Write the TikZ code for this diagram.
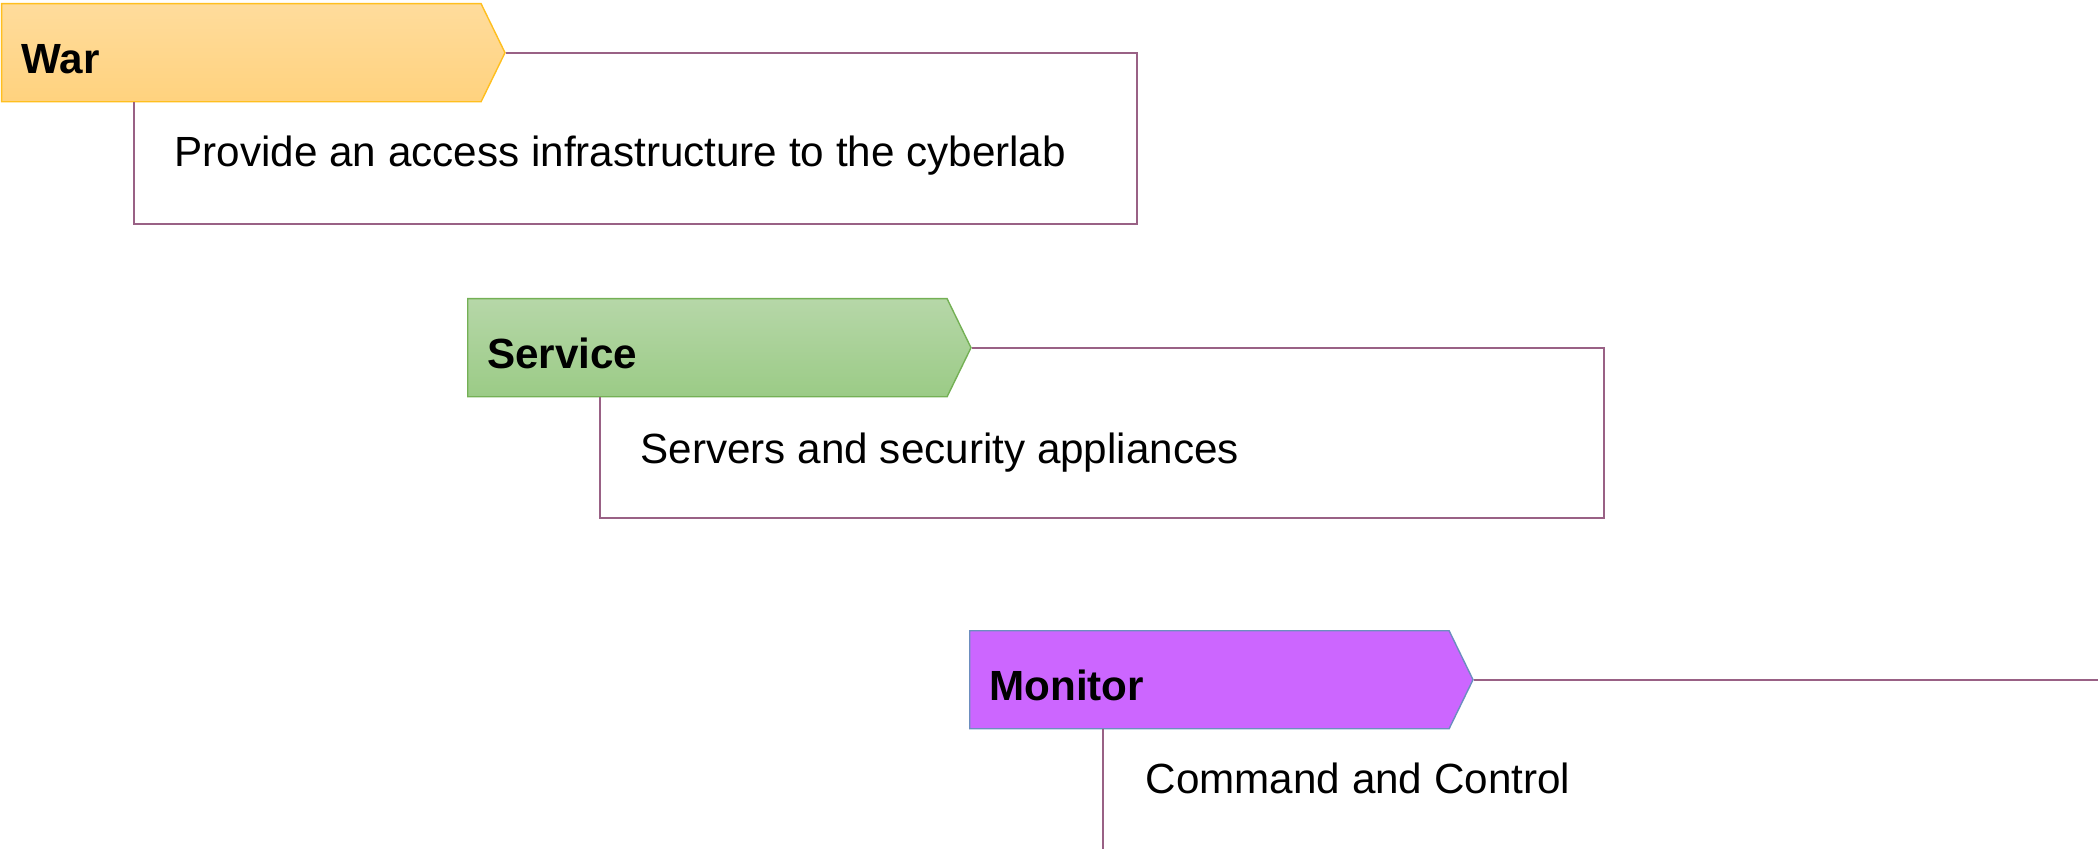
\documentclass[tikz,border=0pt]{standalone}
\usepackage{fontspec}
\setmainfont{Liberation Sans}
\usepackage{tikz}
\usetikzlibrary{shapes.symbols,positioning}
\definecolor{rimpurple}{HTML}{996185}
\definecolor{warline}{HTML}{FFBF1F}
\definecolor{warhi}{HTML}{FFDC9C}
\definecolor{warlo}{HTML}{FFD27E}
\definecolor{srvline}{HTML}{74B055}
\definecolor{srvhi}{HTML}{B6D7A8}
\definecolor{srvlo}{HTML}{9BCB86}
\definecolor{monfill}{HTML}{CC66FF}
\definecolor{monline}{HTML}{6C8EBF}

\begin{document}
\begin{tikzpicture}[x=0.01cm, y=-0.01cm,
  etiqueta/.style={signal, signal to=east, signal pointer angle=128, anchor=north west,
                   minimum width=5.03cm, minimum height=0.98cm, text width=4.4cm, align=left,
                   inner xsep=0.19cm, inner ysep=0.28cm, text height=0.42cm, text depth=0pt,
                   line width=0.4pt, font=\fontsize{12}{14}\selectfont\bfseries},
  nota/.style={anchor=base west, inner sep=0pt, font=\fontsize{12}{14}\selectfont},
  borde/.style={rimpurple, line width=0.65pt}]
\useasboundingbox (0,0) rectangle (2098,849);
\clip (0,0) rectangle (2098,849);

% bloques
\node[etiqueta, draw=warline, top color=warhi, bottom color=warlo] (war) at (1,3) {War};
\node[nota] (wartxt) at (174,167) {Provide an access infrastructure to the cyberlab};
\draw[borde] (war.east) -| (1137,224) -| ([xshift=1.33cm]war.south west);

\node[etiqueta, draw=srvline, top color=srvhi, bottom color=srvlo] (srv) at (467,298) {Service};
\node[nota] (srvtxt) at (640,463) {Servers and security appliances};
\draw[borde] (srv.east) -| (1604,518) -| ([xshift=1.33cm]srv.south west);

\node[etiqueta, draw=monline, fill=monfill] (mon) at (969,630) {Monitor};
\node[nota] (montxt) at (1145,793) {Command and Control};
\draw[borde] (mon.east) -| (2106,851) -| ([xshift=1.34cm]mon.south west);
\end{tikzpicture}
\end{document}
